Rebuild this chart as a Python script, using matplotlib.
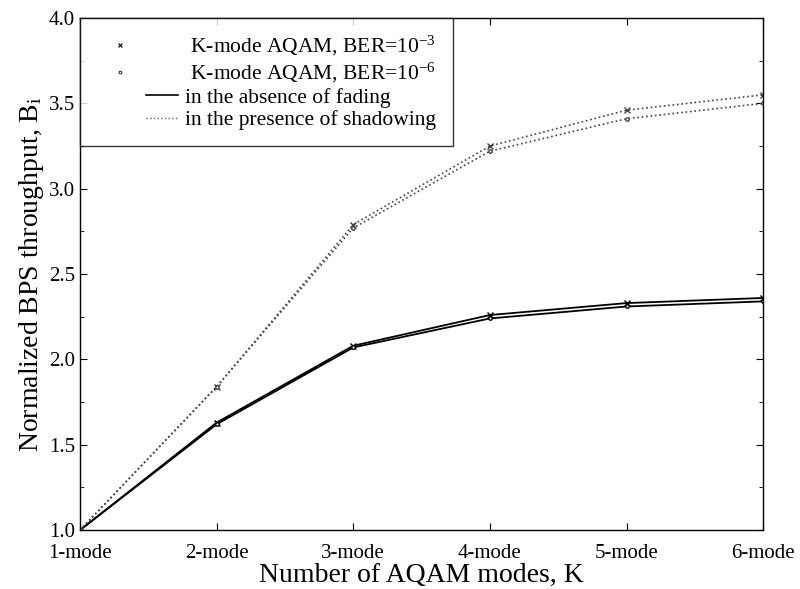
import matplotlib
matplotlib.use("Agg")
import matplotlib.pyplot as plt
from matplotlib.lines import Line2D
from matplotlib.legend_handler import HandlerBase
from matplotlib.ticker import MultipleLocator, FormatStrFormatter

# data
modes = ["1-mode", "2-mode", "3-mode", "4-mode", "5-mode", "6-mode"]
fading_ber3 = [1.0, 1.63, 2.08, 2.26, 2.33, 2.36]
fading_ber6 = [1.0, 1.62, 2.07, 2.24, 2.31, 2.34]
shadow_ber3 = [1.0, 1.84, 2.79, 3.25, 3.46, 3.55]
shadow_ber6 = [1.0, 1.84, 2.77, 3.22, 3.41, 3.50]

plt.rcParams['font.family'] = ['Liberation Serif', 'DejaVu Serif']
plt.rcParams['mathtext.fontset'] = 'custom'
plt.rcParams['mathtext.rm'] = 'Liberation Serif'
plt.rcParams['mathtext.it'] = 'Liberation Serif:italic'


class LeftMarker(HandlerBase):
    # 標記放在左側
    def create_artists(self, legend, orig_handle, xdescent, ydescent,
                       width, height, fontsize, trans):
        l = Line2D([0.29 * width - xdescent], [height / 2 - ydescent])
        l.update_from(orig_handle)
        l.set_transform(trans)
        return [l]


class RightLine(HandlerBase):
    # 線段放在右側
    def create_artists(self, legend, orig_handle, xdescent, ydescent,
                       width, height, fontsize, trans):
        y = height / 2 - ydescent
        l = Line2D([0.59 * width - xdescent, 0.97 * width - xdescent], [y, y])
        l.update_from(orig_handle)
        l.set_transform(trans)
        return [l]


fig = plt.figure(figsize=(8.0, 5.89), dpi=100)
ax = fig.add_axes([0.1, 0.1, 0.854, 0.8694])

x = list(range(len(modes)))

# 無衰落
ax.plot(x, fading_ber3, color='black', lw=1.3, marker='x', ms=4, mew=1.0)
ax.plot(x, fading_ber6, color='black', lw=1.3, marker='o', ms=2.5, mfc='white')
# 陰影
ax.plot(x, shadow_ber3, color='#444444', lw=1.2, ls=':', marker='x', ms=4, mew=1.0)
ax.plot(x, shadow_ber6, color='#444444', lw=1.2, ls=':', marker='o', ms=2.5, mfc='white')

ax.set_xlim(0, len(modes) - 1)
ax.set_ylim(1.0, 4.0)
ax.set_xticks(x)
ax.set_xticklabels(modes)
ax.yaxis.set_major_locator(MultipleLocator(0.5))
ax.yaxis.set_minor_locator(MultipleLocator(0.25))
ax.yaxis.set_major_formatter(FormatStrFormatter('%.1f'))
ax.tick_params(which='both', direction='in', top=True, right=True, labelsize=15)
ax.tick_params(which='major', length=5)
ax.tick_params(which='minor', length=3)
ax.tick_params(axis='x', pad=10)

ax.set_xlabel("Number of AQAM modes, K", fontsize=20, labelpad=0)
ax.set_ylabel(r"Normalized BPS throughput, B$_\mathrm{i}$", fontsize=20, labelpad=2)

h_x = Line2D([], [], color='black', ls='none', marker='x', ms=3, mew=0.8)
h_o = Line2D([], [], color='black', ls='none', marker='o', ms=2, mfc='white', mew=0.6)
h_solid = Line2D([], [], color='black', lw=1.2)
h_dot = Line2D([], [], color='#666666', lw=1.0, ls=':')
labels = [
    r" K-mode AQAM, BER=10$^{-3}$",
    r" K-mode AQAM, BER=10$^{-6}$",
    "in the absence of fading",
    "in the presence of shadowing",
]
leg = ax.legend([h_x, h_o, h_solid, h_dot], labels, loc='upper left',
                fontsize=15.5, frameon=True, fancybox=False, edgecolor='black',
                borderaxespad=0, handlelength=3.9, handletextpad=0.25,
                labelspacing=0.12, borderpad=0.75,
                handler_map={h_x: LeftMarker(), h_o: LeftMarker(),
                             h_solid: RightLine(), h_dot: RightLine()})
leg.get_frame().set_linewidth(1.0)

for s in ax.spines.values():
    s.set_linewidth(1.0)

fig.savefig("out.png", dpi=100)
